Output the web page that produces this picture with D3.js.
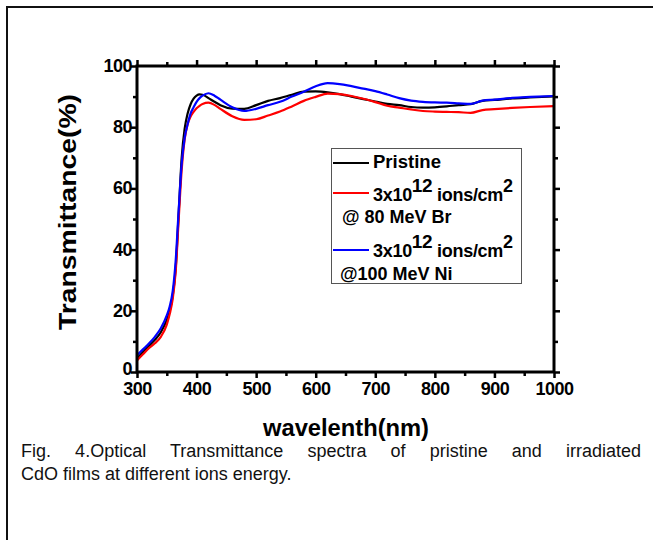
<!DOCTYPE html>
<html><head><meta charset="utf-8">
<script src="https://cdn.jsdelivr.net/npm/d3@7"></script>
<style>body{margin:0;background:#fff}svg{display:block}text{font-family:"Liberation Sans",Arial,sans-serif}</style>
</head><body><svg id="c" width="653" height="540"></svg>
<script>
const wavelength = [300,310,320,330,340,350,355,360,365,370,375,380,385,390,395,400,405,410,420,430,440,460,480,500,520,540,560,580,600,620,640,660,680,700,720,740,760,780,800,820,840,860,880,900,930,960,1000];
const pristine = [4.5,6.5,8.5,10.5,13,17,20,25,34,52,70,79.5,84.5,87.5,89.3,90.3,90.7,90.6,89.5,88.3,87.2,86.1,86.0,87.2,88.6,89.5,90.6,91.6,91.7,91.4,90.8,90.0,89.2,88.4,87.6,87.2,86.6,86.4,86.5,86.8,87.2,87.5,88.6,88.9,89.4,89.7,90.1];
const br80 = [3.8,5.8,7.8,9.4,11.5,15.5,19,24,33,50,66,76,81,83.5,85,86.2,87,87.6,88,87.3,86,83.6,82.4,82.6,83.8,85.1,86.8,88.6,89.9,91.0,90.8,90.2,89.3,88.2,87.0,86.4,85.8,85.3,85.1,85.0,84.9,84.7,85.6,85.9,86.3,86.6,86.9];
const ni100 = [5.5,7.4,9.3,11.5,14.3,18.5,21.5,26.5,36.6,53,68,76.5,81,84.5,86.5,88.3,89.5,90.3,91.1,90.3,89.0,86.5,85.3,86.0,87.2,88.3,90.0,91.6,93.4,94.4,94.1,93.4,92.6,91.8,90.7,89.5,88.7,88.3,88.1,88.0,87.8,87.6,88.7,89.0,89.6,89.9,90.2];
const xTicks = [300,400,500,600,700,800,900,1000];
const yTicks = [0,20,40,60,80,100];
const seriesColors = ["#000000","#ff0000","#0000ff"];

const svg = d3.select("#c");
const x = d3.scaleLinear().domain([300,1000]).range([137,554]);
const y = d3.scaleLinear().domain([0,100]).range([372,66]);

// frame
svg.append("path").attr("d","M7,540 V7 H653").attr("fill","none").attr("stroke","#111").attr("stroke-width",2);

const line = d3.line().x((d,i)=>x(wavelength[i])).y(d=>y(d)).curve(d3.curveMonotoneX);
[pristine, br80, ni100].forEach((s,k)=>{
  svg.append("path").datum(s).attr("d",line).attr("fill","none")
    .attr("stroke",seriesColors[k]).attr("stroke-width",2.2).attr("stroke-linejoin","round");
});

// axes
const xMinor = d3.range(350,1000,100);
const yMinor = d3.range(10,100,20);
function axisG(axis, tr){ const g = svg.append("g").attr("transform",tr).call(axis); g.select(".domain").remove(); g.selectAll("line").attr("stroke","#000").attr("stroke-width",2.5); return g;}
const bottom = axisG(d3.axisBottom(x).tickValues(xTicks).tickSize(6).tickFormat(d3.format("d")),"translate(0,372)");
bottom.selectAll("text").attr("font-size",18).attr("font-weight","bold").attr("fill","#000").attr("y",10).attr("dy","0.71em").attr("letter-spacing","-0.5");
axisG(d3.axisBottom(x).tickValues(xMinor).tickSize(4).tickFormat(""),"translate(0,372)");
axisG(d3.axisTop(x).tickValues(xTicks).tickSize(6).tickFormat(""),"translate(0,66)");
axisG(d3.axisTop(x).tickValues(xMinor).tickSize(4).tickFormat(""),"translate(0,66)");
const left = axisG(d3.axisLeft(y).tickValues(yTicks).tickSize(6).tickFormat(d3.format("d")),"translate(137,0)");
left.selectAll("text").attr("font-size",18).attr("font-weight","bold").attr("fill","#000").attr("x",-5).attr("dy","0.3em").attr("letter-spacing","-0.5");
left.selectAll(".tick").filter(d=>d===0).select("text").attr("dy","0.15em");
axisG(d3.axisLeft(y).tickValues(yMinor).tickSize(4).tickFormat(""),"translate(137,0)");
axisG(d3.axisRight(y).tickValues(yTicks).tickSize(6).tickFormat(""),"translate(554,0)");
axisG(d3.axisRight(y).tickValues(yMinor).tickSize(4).tickFormat(""),"translate(554,0)");
svg.append("rect").attr("x",137).attr("y",66).attr("width",554-137).attr("height",372-66)
  .attr("fill","none").attr("stroke","#000").attr("stroke-width",3);

// axis titles
svg.append("text").attr("transform","translate(76,212) rotate(-90)").attr("text-anchor","middle")
  .attr("font-size",23).attr("font-weight","bold").attr("textLength",236).attr("lengthAdjust","spacingAndGlyphs").text("Transmittance(%)");
svg.append("text").attr("x",346).attr("y",436).attr("text-anchor","middle")
  .attr("font-size",23).attr("font-weight","bold").attr("textLength",166).attr("lengthAdjust","spacingAndGlyphs").text("wavelenth(nm)");

// legend
svg.append("rect").attr("x",331.5).attr("y",148.5).attr("width",190).attr("height",135)
  .attr("fill","#fff").attr("stroke","#555").attr("stroke-width",1);
const legY = [163,193,250];
legY.forEach((ly,k)=>{
  svg.append("line").attr("x1",333).attr("x2",369).attr("y1",ly).attr("y2",ly).attr("stroke",seriesColors[k]).attr("stroke-width",2);
});
const lt = (xx,yy)=>svg.append("text").attr("x",xx).attr("y",yy).attr("font-size",18).attr("font-weight","bold");
lt(373,168).attr("textLength",68).attr("lengthAdjust","spacingAndGlyphs").text("Pristine");
function dose(yy){
  const t = lt(373,yy).attr("letter-spacing","-0.3");
  t.append("tspan").text("3x10");
  t.append("tspan").attr("font-size",19).attr("dy",-9).text("12");
  t.append("tspan").attr("dy",9).text(" ions/cm");
  t.append("tspan").attr("font-size",18).attr("dy",-9).text("2");
}
dose(201);
lt(342,223).text("@ 80 MeV Br");
dose(257);
lt(340,280).text("@100 MeV Ni");

// caption
const cap1 = svg.append("text").attr("x",21).attr("y",457).attr("font-size",18).attr("fill","#111")
  .text("Fig. 4.Optical Transmittance spectra of pristine and irradiated");
const w1 = cap1.node().getComputedTextLength();
const nsp = 7;
cap1.attr("word-spacing", Math.max(0,(620 - w1)/nsp).toFixed(2));
svg.append("text").attr("x",21).attr("y",480).attr("font-size",18).attr("fill","#111")
  .text("CdO films at different ions energy.");
</script></body></html>
